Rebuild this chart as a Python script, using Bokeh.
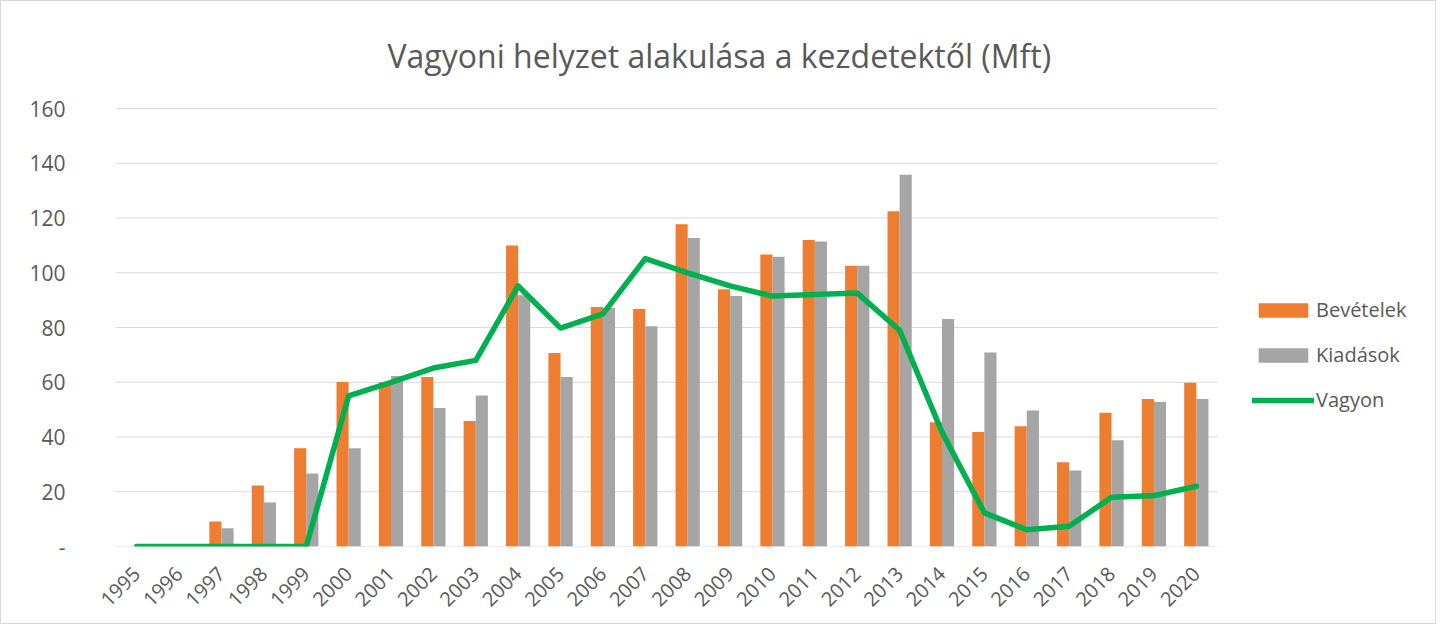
import math
from bokeh.plotting import figure
from bokeh.models import ColumnDataSource, FixedTicker, Legend, LegendItem, Title, Range1d
from bokeh.transform import dodge
from bokeh.embed import file_html
from bokeh.resources import INLINE

years = [str(y) for y in range(1995, 2021)]
bevetelek = [0, 0, 9.1, 22.3, 35.9, 60.1, 60.0, 61.9, 45.9, 110.0, 70.7, 87.5, 86.8,
             117.7, 94.0, 106.7, 112.0, 102.6, 122.5, 45.4, 41.8, 43.9, 30.8, 48.9, 53.9, 59.8]
kiadasok = [0, 0, 6.7, 16.1, 26.7, 35.9, 62.3, 50.6, 55.2, 91.8, 61.9, 87.1, 80.5,
            112.7, 91.5, 105.9, 111.4, 102.6, 135.8, 83.1, 70.9, 49.7, 27.8, 38.8, 52.8, 53.9]
vagyon = [0, 0, 0, 0, 0, 55.0, 60.0, 65.2, 68.0, 95.2, 79.8, 85.0, 105.2,
          100.0, 95.2, 91.5, 92.1, 92.6, 79.0, 41.8, 12.3, 6.1, 7.4, 18.0, 18.6, 22.0]
y_ticks = [0, 20, 40, 60, 80, 100, 120, 140, 160]
y_tick_labels = ["-", "20", "40", "60", "80", "100", "120", "140", "160"]
title_text = "Vagyoni helyzet alakulása a kezdetektől (Mft)"

FONT = "Open Sans"
TXT = "#595959"
GRID = "#D9D9D9"

n = len(years)
xs = list(range(n))
src = ColumnDataSource(dict(x=xs, year=years, bev=bevetelek, kia=kiadasok, vag=vagyon))

# frame: plot area of n categories, plus room on the right for the legend
LEFT, TOP, BOTTOM, W, H = 114, 106, 79, 1436, 624
frame_w = W - LEFT - 1
pitch = 1102 / n
x_end = -0.5 + frame_w / pitch

p = figure(x_range=Range1d(-0.5, x_end), y_range=Range1d(0, 160.4),
           width=W, height=H, output_backend="svg", toolbar_location=None,
           min_border_left=LEFT, min_border_right=1, min_border_top=TOP, min_border_bottom=BOTTOM)
p.styles = {"border": "1px solid #D9D9D9"}
p.outline_line_color = None
p.xgrid.grid_line_color = None
p.ygrid.grid_line_color = None

t = Title(text=title_text, align="left", text_font=FONT, text_font_size="32px",
          text_font_style="normal", text_color=TXT)
p.add_layout(t, "above")
t.standoff = 61
t.offset = 272

# horizontal gridlines spanning only the category area
grid_src = ColumnDataSource(dict(x0=[-0.5] * len(y_ticks), x1=[n - 0.5] * len(y_ticks),
                                 y=y_ticks))
p.segment(x0="x0", x1="x1", y0="y", y1="y", source=grid_src, line_color=GRID, line_width=1)

w = 0.286
r1 = p.vbar(x=dodge("x", -w / 2), top="bev", width=w, source=src,
            fill_color="#ED7D31", line_color=None)
r2 = p.vbar(x=dodge("x", w / 2), top="kia", width=w, source=src,
            fill_color="#A5A5A5", line_color=None)
r3 = p.line(x="x", y="vag", source=src, line_color="#00B050", line_width=5.5,
            line_join="round", line_cap="round")

p.yaxis.ticker = FixedTicker(ticks=y_ticks)
p.yaxis.major_label_overrides = {t_: l for t_, l in zip(y_ticks, y_tick_labels)}
p.yaxis.axis_line_color = None
p.yaxis.major_tick_line_color = None
p.yaxis.minor_tick_line_color = None
p.yaxis.major_label_standoff = 44
p.yaxis.major_label_text_font = FONT
p.yaxis.major_label_text_font_size = "21px"
p.yaxis.major_label_text_color = TXT

p.xaxis.ticker = FixedTicker(ticks=xs)
p.xaxis.major_label_overrides = {i: yr for i, yr in zip(xs, years)}
p.xaxis.axis_line_color = None
p.xaxis.major_tick_line_color = None
p.xaxis.minor_tick_line_color = None
p.xaxis.major_label_orientation = math.pi / 4
p.xaxis.major_label_standoff = 18
p.xaxis.major_label_text_font = FONT
p.xaxis.major_label_text_font_size = "20px"
p.xaxis.major_label_text_color = TXT

legend = Legend(items=[LegendItem(label="Bevételek", renderers=[r1]),
                       LegendItem(label="Kiadások", renderers=[r2]),
                       LegendItem(label="Vagyon", renderers=[r3])],
                location=(1137, 133), border_line_color=None, background_fill_alpha=0,
                padding=0, margin=0, spacing=18, glyph_width=62, glyph_height=18,
                label_standoff=2, label_text_font=FONT, label_text_font_size="20px",
                label_text_color=TXT)
p.add_layout(legend, "center")

open("out.html", "w").write(file_html(p, INLINE))
